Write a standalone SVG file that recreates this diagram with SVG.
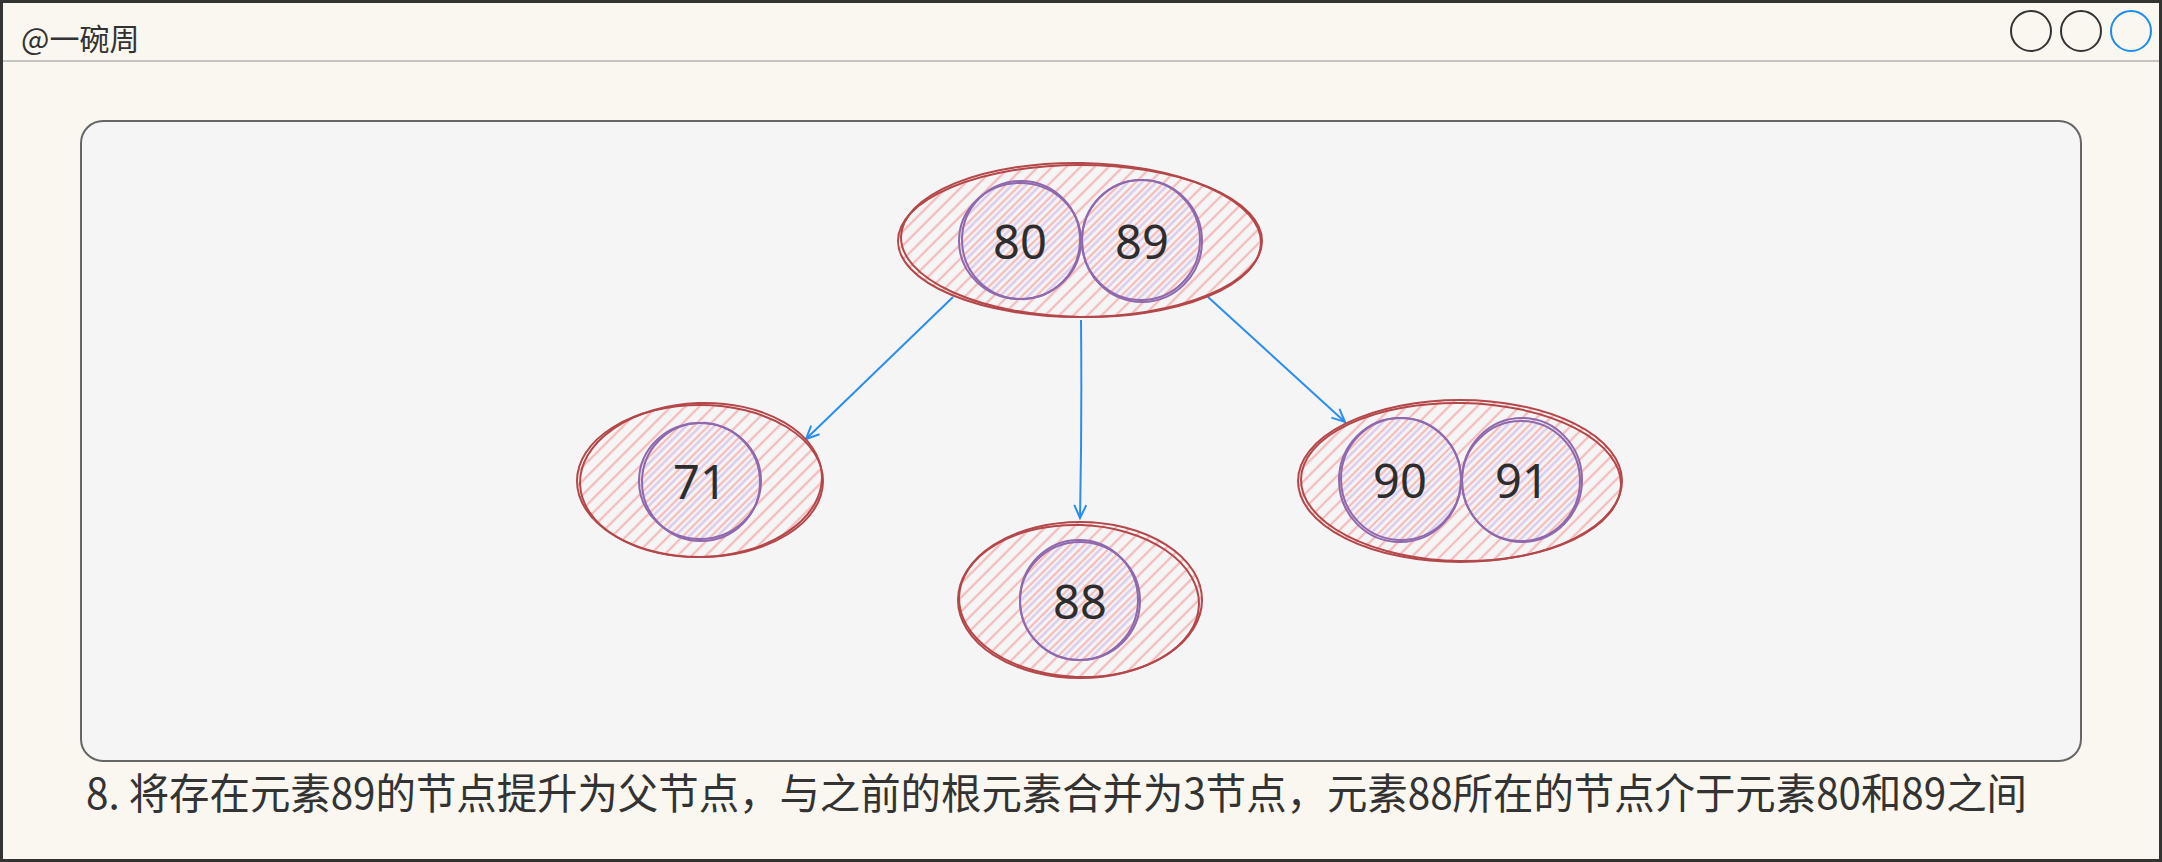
<svg xmlns="http://www.w3.org/2000/svg" width="2162" height="862" viewBox="0 0 2162 862">
<style>
.win{fill:#f9f7f0;stroke:#333;stroke-width:3}
.bar{stroke:#c4c4c4;stroke-width:2}
.btn{fill:none;stroke:#333;stroke-width:2}
.btnb{fill:none;stroke:#1a8cf0;stroke-width:2}
.panel{fill:#f5f5f5;stroke:#666;stroke-width:2}
.title{font-family:"Noto Sans CJK SC","Noto Sans",sans-serif;font-size:30px;fill:#333}
.cap{font-family:"Noto Sans CJK SC","Noto Sans",sans-serif;font-size:42px;fill:#333}
.ell{fill:url(#pink)}
.ells{fill:none;stroke:#b4474a;stroke-width:2}
.cir{fill:url(#purp)}
.cirs{fill:none;stroke:#8f68ad;stroke-width:2}
.num{font-family:"Noto Sans","Open Sans",sans-serif;font-size:47px;fill:#2d2d2d;text-anchor:middle;dominant-baseline:central}
.edge{fill:none;stroke:#2a8ef0;stroke-width:2}
</style>
<defs>
<pattern id="pink" patternUnits="userSpaceOnUse" width="10" height="10" patternTransform="rotate(45)">
<line x1="2" y1="0" x2="2" y2="10" stroke="#f5bcbc" stroke-width="2.3"/>
</pattern>
<pattern id="purp" patternUnits="userSpaceOnUse" width="10" height="10" patternTransform="rotate(45)">
<line x1="6.5" y1="0" x2="6.5" y2="10" stroke="#dac8ea" stroke-width="2.3"/>
</pattern>
<marker id="arr" markerUnits="userSpaceOnUse" markerWidth="20" markerHeight="20" refX="14" refY="7" orient="auto">
<path d="M1,1 L14,7 L1,13" fill="none" stroke="#2a8ef0" stroke-width="2"/>
</marker>
</defs>
<rect class="win" x="1.5" y="1.5" width="2159" height="859"/>
<line class="bar" x1="3" y1="61" x2="2159" y2="61"/>
<text class="title" x="21" y="50">@一碗周</text>
<circle class="btn" cx="2031" cy="31" r="20"/>
<circle class="btn" cx="2081" cy="31" r="20"/>
<circle class="btnb" cx="2131" cy="31" r="20"/>
<rect class="panel" x="81" y="121" width="2000" height="640" rx="22"/>

<g id="connectors">
<path class="edge" d="M953,297 L806,439" marker-end="url(#arr)"/>
<path class="edge" d="M1081,320 Q1082,420 1080,518" marker-end="url(#arr)"/>
<path class="edge" d="M1208,297 L1345,422" marker-end="url(#arr)"/>
</g>

<g id="node-80-89">
<ellipse class="ell" cx="1080" cy="241" rx="182" ry="76"/>
<ellipse class="ells" cx="1080" cy="241" rx="182" ry="76"/>
<ellipse class="ells" cx="1081" cy="240" rx="180" ry="77" transform="rotate(1 1081 240)"/>
<circle class="cir" cx="1020" cy="241" r="60"/>
<ellipse class="cirs" cx="1020" cy="241" rx="61" ry="58"/>
<ellipse class="cirs" cx="1021" cy="240" rx="59" ry="59"/>
<circle class="cir" cx="1142" cy="241" r="60"/>
<ellipse class="cirs" cx="1142" cy="241" rx="60" ry="61"/>
<ellipse class="cirs" cx="1141" cy="240" rx="59" ry="60"/>
<text class="num" x="1020" y="241">80</text>
<text class="num" x="1142" y="241">89</text>
</g>

<g id="node-71">
<ellipse class="ell" cx="700" cy="481" rx="123" ry="76"/>
<ellipse class="ells" cx="700" cy="481" rx="123" ry="76"/>
<ellipse class="ells" cx="701" cy="480" rx="121" ry="77" transform="rotate(-2 701 480)"/>
<circle class="cir" cx="700" cy="481" r="60"/>
<ellipse class="cirs" cx="700" cy="481" rx="61" ry="58"/>
<ellipse class="cirs" cx="701" cy="482" rx="59" ry="59"/>
<text class="num" x="700" y="481">71</text>
</g>

<g id="node-88">
<ellipse class="ell" cx="1080" cy="600" rx="122" ry="78"/>
<ellipse class="ells" cx="1080" cy="600" rx="122" ry="78"/>
<ellipse class="ells" cx="1079" cy="601" rx="120" ry="76" transform="rotate(2 1079 601)"/>
<circle class="cir" cx="1080" cy="601" r="60"/>
<ellipse class="cirs" cx="1080" cy="601" rx="60" ry="59"/>
<ellipse class="cirs" cx="1079" cy="600" rx="59" ry="60"/>
<text class="num" x="1080" y="601">88</text>
</g>

<g id="node-90-91">
<ellipse class="ell" cx="1460" cy="481" rx="162" ry="81"/>
<ellipse class="ells" cx="1460" cy="481" rx="162" ry="81"/>
<ellipse class="ells" cx="1461" cy="482" rx="160" ry="79" transform="rotate(1 1461 482)"/>
<circle class="cir" cx="1400" cy="480" r="61"/>
<ellipse class="cirs" cx="1400" cy="480" rx="61" ry="62"/>
<ellipse class="cirs" cx="1401" cy="479" rx="60" ry="61"/>
<circle class="cir" cx="1522" cy="480" r="60"/>
<ellipse class="cirs" cx="1522" cy="480" rx="60" ry="62"/>
<ellipse class="cirs" cx="1521" cy="481" rx="59" ry="60"/>
<text class="num" x="1400" y="480">90</text>
<text class="num" x="1522" y="480">91</text>
</g>

<text class="cap" x="86" y="809" textLength="1941" lengthAdjust="spacingAndGlyphs">8. 将存在元素89的节点提升为父节点，与之前的根元素合并为3节点，元素88所在的节点介于元素80和89之间</text>
</svg>
